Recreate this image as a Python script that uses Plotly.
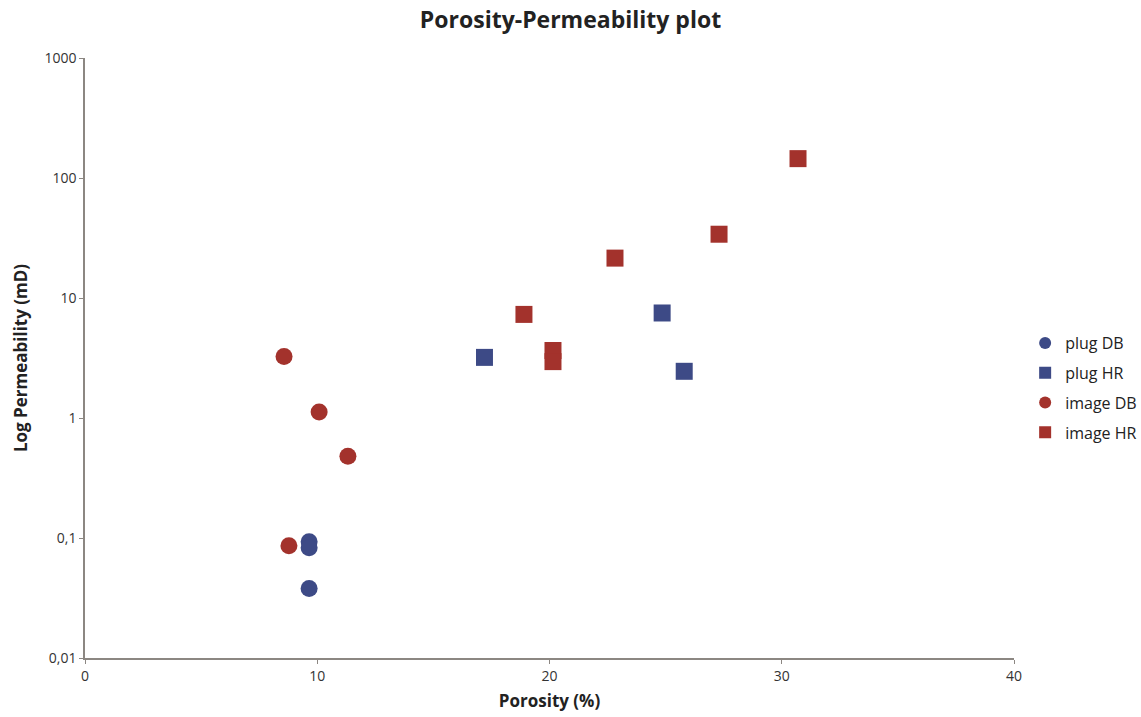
import plotly.graph_objects as go

# Data
plug_db_x = [9.65, 9.65, 9.65]
plug_db_y = [0.093, 0.083, 0.038]

plug_hr_x = [17.2, 24.85, 25.8]
plug_hr_y = [3.2, 7.5, 2.45]

image_db_x = [8.57, 10.08, 11.32, 8.78]
image_db_y = [3.25, 1.12, 0.48, 0.086]

image_hr_x = [18.9, 20.15, 20.15, 22.82, 27.3, 30.7]
image_hr_y = [7.3, 3.65, 2.95, 21.5, 34, 145]

y_tickvals = [0.01, 0.1, 1, 10, 100, 1000]
y_ticktext = ["0,01", "0,1", "1", "10", "100", "1000"]
x_tickvals = [0, 10, 20, 30, 40]

BLUE = "#3d4a86"
RED = "#a3322c"
FONT = "Open Sans, Lato, sans-serif"

fig = go.Figure()
series = [
    ("plug DB", plug_db_x, plug_db_y, "circle", BLUE),
    ("plug HR", plug_hr_x, plug_hr_y, "square", BLUE),
    ("image DB", image_db_x, image_db_y, "circle", RED),
    ("image HR", image_hr_x, image_hr_y, "square", RED),
]
for name, xs, ys, sym, col in series:
    fig.add_trace(go.Scatter(
        x=xs, y=ys, mode="markers", name=name, legendgroup=name,
        marker=dict(symbol=sym, size=17, color=col, line=dict(width=0)),
    ))

axis_color = "#8c8782"
fig.update_layout(
    width=1141, height=717,
    margin=dict(l=85, r=127, t=58, b=59, autoexpand=False),
    paper_bgcolor="white", plot_bgcolor="white",
    title=dict(text="<b>Porosity-Permeability plot</b>", x=0.5, xanchor="center",
               y=0.972, yanchor="middle", font=dict(family=FONT, size=23, color="#222")),
    font=dict(family=FONT, size=14, color="#333"),
    legend=dict(x=1.012, xanchor="left", y=0.45, yanchor="middle",
                font=dict(family=FONT, size=16, color="#222"),
                itemsizing="constant", tracegroupgap=6, itemwidth=30),
    showlegend=True,
)
fig.update_xaxes(
    range=[0, 40], tickvals=x_tickvals, showgrid=False, zeroline=False,
    showline=True, linecolor=axis_color, linewidth=1.5,
    ticks="outside", ticklen=4, tickcolor=axis_color,
    tickfont=dict(family=FONT, size=14, color="#333"),
    title=dict(text="<b>Porosity (%)</b>", font=dict(family=FONT, size=17, color="#222"), standoff=12),
)
fig.update_yaxes(
    type="log", range=[-2, 3], tickvals=y_tickvals, ticktext=y_ticktext,
    showgrid=False, zeroline=False,
    showline=True, linecolor=axis_color, linewidth=1.5,
    ticks="outside", ticklen=4, tickcolor=axis_color,
    tickfont=dict(family=FONT, size=14, color="#333"),
    title=dict(text="<b>Log Permeability (mD)</b>", font=dict(family=FONT, size=17, color="#222"), standoff=12),
)

fig.write_html("out.html")
